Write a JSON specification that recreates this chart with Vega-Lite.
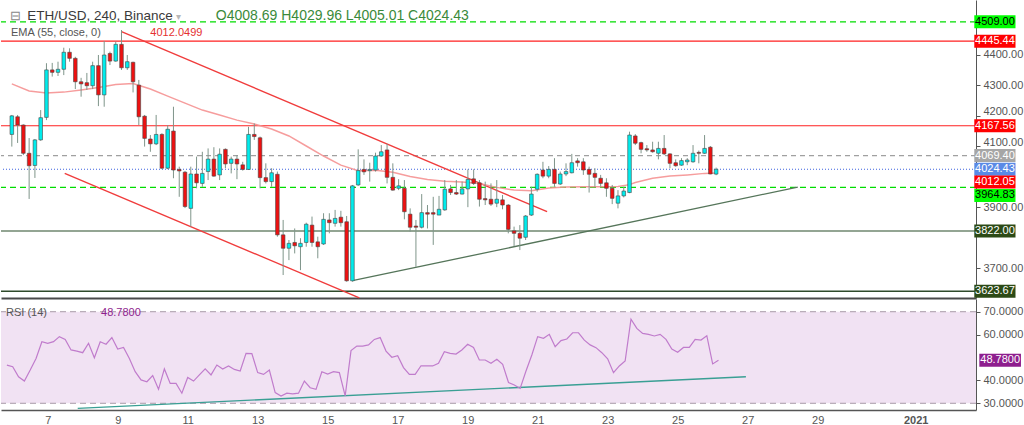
{
"$schema": "https://vega.github.io/schema/vega-lite/v6.json",
"padding": 0,
"spacing": 0,
"background": "white",
"config": {"view": {"stroke": null}, "font": "Liberation Sans"},
"datasets": {
"one": [{}],
"candles": [
{"time":"2020-12-05T20:00:00Z","open":4139,"high":4203,"low":4099,"close":4200,"rsi":46.7},
{"time":"2020-12-06T00:00:00Z","open":4197,"high":4203,"low":4111,"close":4170,"rsi":46.0},
{"time":"2020-12-06T04:00:00Z","open":4170,"high":4172,"low":4071,"close":4077,"rsi":41.6},
{"time":"2020-12-06T08:00:00Z","open":4077,"high":4127,"low":3927,"close":4036,"rsi":39.7},
{"time":"2020-12-06T12:00:00Z","open":4037,"high":4124,"low":3996,"close":4121,"rsi":44.5},
{"time":"2020-12-06T16:00:00Z","open":4121,"high":4219,"low":4118,"close":4194,"rsi":49.6},
{"time":"2020-12-06T20:00:00Z","open":4195,"high":4373,"low":4186,"close":4351,"rsi":56.9},
{"time":"2020-12-07T00:00:00Z","open":4351,"high":4374,"low":4329,"close":4343,"rsi":56.2},
{"time":"2020-12-07T04:00:00Z","open":4343,"high":4378,"low":4331,"close":4353,"rsi":56.9},
{"time":"2020-12-07T08:00:00Z","open":4353,"high":4424,"low":4334,"close":4409,"rsi":59.1},
{"time":"2020-12-07T12:00:00Z","open":4409,"high":4422,"low":4378,"close":4389,"rsi":57.9},
{"time":"2020-12-07T16:00:00Z","open":4389,"high":4394,"low":4288,"close":4312,"rsi":53.3},
{"time":"2020-12-07T20:00:00Z","open":4312,"high":4325,"low":4263,"close":4305,"rsi":52.8},
{"time":"2020-12-08T00:00:00Z","open":4309,"high":4341,"low":4285,"close":4299,"rsi":52.1},
{"time":"2020-12-08T04:00:00Z","open":4299,"high":4378,"low":4288,"close":4365,"rsi":56.2},
{"time":"2020-12-08T08:00:00Z","open":4365,"high":4400,"low":4232,"close":4269,"rsi":49.9},
{"time":"2020-12-08T12:00:00Z","open":4269,"high":4446,"low":4230,"close":4400,"rsi":56.9},
{"time":"2020-12-08T16:00:00Z","open":4405,"high":4411,"low":4367,"close":4380,"rsi":55.8},
{"time":"2020-12-08T20:00:00Z","open":4380,"high":4444,"low":4378,"close":4435,"rsi":58.7},
{"time":"2020-12-09T00:00:00Z","open":4435,"high":4482,"low":4351,"close":4358,"rsi":53.7},
{"time":"2020-12-09T04:00:00Z","open":4358,"high":4400,"low":4351,"close":4378,"rsi":54.4},
{"time":"2020-12-09T08:00:00Z","open":4376,"high":4378,"low":4277,"close":4312,"rsi":49.6},
{"time":"2020-12-09T12:00:00Z","open":4301,"high":4318,"low":4170,"close":4197,"rsi":43.8},
{"time":"2020-12-09T16:00:00Z","open":4199,"high":4203,"low":4099,"close":4126,"rsi":40.2},
{"time":"2020-12-09T20:00:00Z","open":4124,"high":4137,"low":4082,"close":4108,"rsi":39.4},
{"time":"2020-12-10T00:00:00Z","open":4108,"high":4203,"low":4104,"close":4139,"rsi":42.1},
{"time":"2020-12-10T04:00:00Z","open":4139,"high":4143,"low":4025,"close":4028,"rsi":36.1},
{"time":"2020-12-10T08:00:00Z","open":4028,"high":4170,"low":4025,"close":4156,"rsi":45.0},
{"time":"2020-12-10T12:00:00Z","open":4150,"high":4230,"low":3995,"close":4022,"rsi":38.7},
{"time":"2020-12-10T16:00:00Z","open":4024,"high":4033,"low":3934,"close":4019,"rsi":38.7},
{"time":"2020-12-10T20:00:00Z","open":4015,"high":4019,"low":3897,"close":3902,"rsi":34.4},
{"time":"2020-12-11T00:00:00Z","open":3896,"high":4033,"low":3836,"close":4009,"rsi":41.3},
{"time":"2020-12-11T04:00:00Z","open":4009,"high":4066,"low":3962,"close":3980,"rsi":39.7},
{"time":"2020-12-11T08:00:00Z","open":3978,"high":4082,"low":3967,"close":4011,"rsi":42.4},
{"time":"2020-12-11T12:00:00Z","open":4017,"high":4093,"low":3989,"close":4058,"rsi":45.0},
{"time":"2020-12-11T16:00:00Z","open":4058,"high":4097,"low":4000,"close":4002,"rsi":42.4},
{"time":"2020-12-11T20:00:00Z","open":4006,"high":4093,"low":3989,"close":4074,"rsi":46.7},
{"time":"2020-12-12T00:00:00Z","open":4090,"high":4093,"low":4028,"close":4042,"rsi":45.0},
{"time":"2020-12-12T04:00:00Z","open":4044,"high":4066,"low":4011,"close":4058,"rsi":46.3},
{"time":"2020-12-12T08:00:00Z","open":4058,"high":4071,"low":3992,"close":4042,"rsi":44.8},
{"time":"2020-12-12T12:00:00Z","open":4039,"high":4049,"low":4020,"close":4024,"rsi":44.1},
{"time":"2020-12-12T16:00:00Z","open":4024,"high":4164,"low":4022,"close":4139,"rsi":51.8},
{"time":"2020-12-12T20:00:00Z","open":4139,"high":4175,"low":4121,"close":4132,"rsi":51.7},
{"time":"2020-12-13T00:00:00Z","open":4128,"high":4132,"low":3962,"close":3997,"rsi":43.4},
{"time":"2020-12-13T04:00:00Z","open":3997,"high":4044,"low":3978,"close":3984,"rsi":42.6},
{"time":"2020-12-13T08:00:00Z","open":3984,"high":4028,"low":3967,"close":4013,"rsi":44.5},
{"time":"2020-12-13T12:00:00Z","open":4008,"high":4017,"low":3803,"close":3809,"rsi":34.7},
{"time":"2020-12-13T16:00:00Z","open":3809,"high":3858,"low":3677,"close":3765,"rsi":33.2},
{"time":"2020-12-13T20:00:00Z","open":3765,"high":3792,"low":3726,"close":3781,"rsi":34.4},
{"time":"2020-12-14T00:00:00Z","open":3784,"high":3830,"low":3748,"close":3773,"rsi":34.1},
{"time":"2020-12-14T04:00:00Z","open":3770,"high":3798,"low":3693,"close":3781,"rsi":34.4},
{"time":"2020-12-14T08:00:00Z","open":3784,"high":3849,"low":3770,"close":3844,"rsi":39.7},
{"time":"2020-12-14T12:00:00Z","open":3841,"high":3869,"low":3770,"close":3784,"rsi":36.8},
{"time":"2020-12-14T16:00:00Z","open":3786,"high":3803,"low":3732,"close":3770,"rsi":36.1},
{"time":"2020-12-14T20:00:00Z","open":3779,"high":3880,"low":3776,"close":3860,"rsi":43.8},
{"time":"2020-12-15T00:00:00Z","open":3858,"high":3880,"low":3814,"close":3849,"rsi":42.8},
{"time":"2020-12-15T04:00:00Z","open":3847,"high":3891,"low":3836,"close":3863,"rsi":43.8},
{"time":"2020-12-15T08:00:00Z","open":3867,"high":3888,"low":3836,"close":3849,"rsi":43.4},
{"time":"2020-12-15T12:00:00Z","open":3852,"high":3871,"low":3655,"close":3658,"rsi":33.2},
{"time":"2020-12-15T16:00:00Z","open":3658,"high":3973,"low":3655,"close":3970,"rsi":53.0},
{"time":"2020-12-15T20:00:00Z","open":3973,"high":4090,"low":3970,"close":4020,"rsi":55.0},
{"time":"2020-12-16T00:00:00Z","open":4024,"high":4057,"low":4006,"close":4016,"rsi":55.0},
{"time":"2020-12-16T04:00:00Z","open":4020,"high":4046,"low":3984,"close":4024,"rsi":55.5},
{"time":"2020-12-16T08:00:00Z","open":4022,"high":4079,"low":4017,"close":4068,"rsi":57.9},
{"time":"2020-12-16T12:00:00Z","open":4068,"high":4104,"low":4066,"close":4082,"rsi":58.7},
{"time":"2020-12-16T16:00:00Z","open":4088,"high":4108,"low":3978,"close":3998,"rsi":52.8},
{"time":"2020-12-16T20:00:00Z","open":3998,"high":4044,"low":3954,"close":3956,"rsi":50.1},
{"time":"2020-12-17T00:00:00Z","open":3962,"high":3992,"low":3956,"close":3970,"rsi":50.8},
{"time":"2020-12-17T04:00:00Z","open":3962,"high":3989,"low":3860,"close":3885,"rsi":45.6},
{"time":"2020-12-17T08:00:00Z","open":3877,"high":3896,"low":3819,"close":3834,"rsi":42.6},
{"time":"2020-12-17T12:00:00Z","open":3838,"high":3858,"low":3704,"close":3834,"rsi":42.6},
{"time":"2020-12-17T16:00:00Z","open":3834,"high":3943,"low":3830,"close":3882,"rsi":46.4},
{"time":"2020-12-17T20:00:00Z","open":3882,"high":3907,"low":3830,"close":3877,"rsi":46.3},
{"time":"2020-12-18T00:00:00Z","open":3882,"high":3934,"low":3776,"close":3877,"rsi":46.3},
{"time":"2020-12-18T04:00:00Z","open":3874,"high":3937,"low":3874,"close":3893,"rsi":47.5},
{"time":"2020-12-18T08:00:00Z","open":3891,"high":3989,"low":3888,"close":3959,"rsi":52.5},
{"time":"2020-12-18T12:00:00Z","open":3960,"high":3973,"low":3940,"close":3948,"rsi":51.8},
{"time":"2020-12-18T16:00:00Z","open":3948,"high":3989,"low":3940,"close":3943,"rsi":51.5},
{"time":"2020-12-18T20:00:00Z","open":3943,"high":3984,"low":3942,"close":3960,"rsi":53.3},
{"time":"2020-12-19T00:00:00Z","open":3960,"high":4024,"low":3900,"close":3991,"rsi":55.8},
{"time":"2020-12-19T04:00:00Z","open":3993,"high":4024,"low":3973,"close":3978,"rsi":54.4},
{"time":"2020-12-19T08:00:00Z","open":3980,"high":3989,"low":3902,"close":3926,"rsi":48.9},
{"time":"2020-12-19T12:00:00Z","open":3928,"high":3984,"low":3907,"close":3924,"rsi":48.9},
{"time":"2020-12-19T16:00:00Z","open":3926,"high":3978,"low":3904,"close":3910,"rsi":47.5},
{"time":"2020-12-19T20:00:00Z","open":3913,"high":3989,"low":3900,"close":3926,"rsi":49.2},
{"time":"2020-12-20T00:00:00Z","open":3924,"high":3940,"low":3893,"close":3907,"rsi":47.0},
{"time":"2020-12-20T04:00:00Z","open":3907,"high":3910,"low":3814,"close":3827,"rsi":39.1},
{"time":"2020-12-20T08:00:00Z","open":3822,"high":3836,"low":3772,"close":3814,"rsi":38.0},
{"time":"2020-12-20T12:00:00Z","open":3814,"high":3841,"low":3759,"close":3798,"rsi":36.5},
{"time":"2020-12-20T16:00:00Z","open":3801,"high":3874,"low":3792,"close":3871,"rsi":44.1},
{"time":"2020-12-20T20:00:00Z","open":3874,"high":3967,"low":3871,"close":3943,"rsi":51.1},
{"time":"2020-12-21T00:00:00Z","open":3959,"high":4011,"low":3951,"close":4008,"rsi":59.1},
{"time":"2020-12-21T04:00:00Z","open":4022,"high":4049,"low":3995,"close":4002,"rsi":58.4},
{"time":"2020-12-21T08:00:00Z","open":4002,"high":4035,"low":3995,"close":4024,"rsi":60.1},
{"time":"2020-12-21T12:00:00Z","open":4024,"high":4061,"low":3967,"close":3978,"rsi":54.7},
{"time":"2020-12-21T16:00:00Z","open":3976,"high":4017,"low":3973,"close":4009,"rsi":57.4},
{"time":"2020-12-21T20:00:00Z","open":4009,"high":4044,"low":4002,"close":4017,"rsi":58.1},
{"time":"2020-12-22T00:00:00Z","open":4013,"high":4075,"low":4011,"close":4046,"rsi":60.8},
{"time":"2020-12-22T04:00:00Z","open":4052,"high":4061,"low":4033,"close":4046,"rsi":60.8},
{"time":"2020-12-22T08:00:00Z","open":4049,"high":4061,"low":4006,"close":4022,"rsi":57.6},
{"time":"2020-12-22T12:00:00Z","open":4024,"high":4033,"low":3948,"close":4008,"rsi":55.5},
{"time":"2020-12-22T16:00:00Z","open":4011,"high":4028,"low":3967,"close":3998,"rsi":54.3},
{"time":"2020-12-22T20:00:00Z","open":3995,"high":4006,"low":3967,"close":3978,"rsi":52.1},
{"time":"2020-12-23T00:00:00Z","open":3980,"high":3995,"low":3934,"close":3962,"rsi":49.4},
{"time":"2020-12-23T04:00:00Z","open":3962,"high":3973,"low":3910,"close":3929,"rsi":43.4},
{"time":"2020-12-23T08:00:00Z","open":3913,"high":3956,"low":3896,"close":3937,"rsi":46.3},
{"time":"2020-12-23T12:00:00Z","open":3937,"high":3967,"low":3932,"close":3953,"rsi":48.5},
{"time":"2020-12-23T16:00:00Z","open":3948,"high":4148,"low":3946,"close":4137,"rsi":66.7},
{"time":"2020-12-23T20:00:00Z","open":4134,"high":4140,"low":4104,"close":4110,"rsi":62.7},
{"time":"2020-12-24T00:00:00Z","open":4112,"high":4115,"low":4077,"close":4090,"rsi":60.5},
{"time":"2020-12-24T04:00:00Z","open":4092,"high":4104,"low":4082,"close":4088,"rsi":60.1},
{"time":"2020-12-24T08:00:00Z","open":4088,"high":4115,"low":4079,"close":4082,"rsi":59.4},
{"time":"2020-12-24T12:00:00Z","open":4077,"high":4115,"low":4057,"close":4093,"rsi":60.1},
{"time":"2020-12-24T16:00:00Z","open":4093,"high":4137,"low":4071,"close":4075,"rsi":57.9},
{"time":"2020-12-24T20:00:00Z","open":4075,"high":4077,"low":4028,"close":4044,"rsi":53.7},
{"time":"2020-12-25T00:00:00Z","open":4046,"high":4057,"low":4033,"close":4036,"rsi":52.3},
{"time":"2020-12-25T04:00:00Z","open":4038,"high":4061,"low":4036,"close":4053,"rsi":54.4},
{"time":"2020-12-25T08:00:00Z","open":4049,"high":4061,"low":4038,"close":4055,"rsi":54.4},
{"time":"2020-12-25T12:00:00Z","open":4049,"high":4104,"low":4046,"close":4077,"rsi":57.9},
{"time":"2020-12-25T16:00:00Z","open":4080,"high":4086,"low":4044,"close":4077,"rsi":57.6},
{"time":"2020-12-25T20:00:00Z","open":4077,"high":4137,"low":4075,"close":4093,"rsi":59.5},
{"time":"2020-12-26T00:00:00Z","open":4097,"high":4101,"low":4008,"close":4009,"rsi":47.2},
{"time":"2020-12-26T04:00:00Z","open":4008.69,"high":4029.96,"low":4005.01,"close":4024.43,"rsi":48.78}
],
"ema": [
{"time":"2020-12-05T20:00:00Z","ema":4305},
{"time":"2020-12-06T08:00:00Z","ema":4282},
{"time":"2020-12-06T20:00:00Z","ema":4275},
{"time":"2020-12-07T08:00:00Z","ema":4278},
{"time":"2020-12-07T20:00:00Z","ema":4285},
{"time":"2020-12-08T08:00:00Z","ema":4293},
{"time":"2020-12-08T20:00:00Z","ema":4303},
{"time":"2020-12-09T08:00:00Z","ema":4306},
{"time":"2020-12-09T20:00:00Z","ema":4288},
{"time":"2020-12-10T08:00:00Z","ema":4265},
{"time":"2020-12-10T20:00:00Z","ema":4242},
{"time":"2020-12-11T08:00:00Z","ema":4219},
{"time":"2020-12-11T20:00:00Z","ema":4203},
{"time":"2020-12-12T08:00:00Z","ema":4186},
{"time":"2020-12-12T20:00:00Z","ema":4173},
{"time":"2020-12-13T08:00:00Z","ema":4157},
{"time":"2020-12-13T20:00:00Z","ema":4134},
{"time":"2020-12-14T08:00:00Z","ema":4101},
{"time":"2020-12-14T20:00:00Z","ema":4068},
{"time":"2020-12-15T08:00:00Z","ema":4038},
{"time":"2020-12-15T20:00:00Z","ema":4020},
{"time":"2020-12-16T08:00:00Z","ema":4021},
{"time":"2020-12-16T20:00:00Z","ema":4015},
{"time":"2020-12-17T08:00:00Z","ema":4001},
{"time":"2020-12-17T20:00:00Z","ema":3991},
{"time":"2020-12-18T08:00:00Z","ema":3985},
{"time":"2020-12-18T20:00:00Z","ema":3983},
{"time":"2020-12-19T08:00:00Z","ema":3978},
{"time":"2020-12-19T20:00:00Z","ema":3965},
{"time":"2020-12-20T08:00:00Z","ema":3956},
{"time":"2020-12-20T20:00:00Z","ema":3954},
{"time":"2020-12-21T08:00:00Z","ema":3963},
{"time":"2020-12-21T20:00:00Z","ema":3966},
{"time":"2020-12-22T08:00:00Z","ema":3967},
{"time":"2020-12-22T20:00:00Z","ema":3967},
{"time":"2020-12-23T08:00:00Z","ema":3968},
{"time":"2020-12-23T16:00:00Z","ema":3974},
{"time":"2020-12-23T20:00:00Z","ema":3981},
{"time":"2020-12-24T08:00:00Z","ema":3995},
{"time":"2020-12-24T20:00:00Z","ema":4002},
{"time":"2020-12-25T08:00:00Z","ema":4006},
{"time":"2020-12-25T20:00:00Z","ema":4011},
{"time":"2020-12-26T04:00:00Z","ema":4012.05}
],
"badges": [
{"price":4509.00,"label":"4509.00","kind":"lime"},
{"price":4445.44,"label":"4445.44","kind":"red"},
{"price":4167.56,"label":"4167.56","kind":"red"},
{"price":4069.40,"label":"4069.40","kind":"gray"},
{"price":4024.43,"label":"4024.43","kind":"blue"},
{"price":4012.05,"label":"4012.05","kind":"red"},
{"price":3964.83,"label":"3964.83","kind":"lime"},
{"price":3822.00,"label":"3822.00","kind":"dark"},
{"price":3623.67,"label":"3623.67","kind":"dark"}
]
},
"vconcat": [
{
"width": 975,
"height": 298,
"data": {"name": "candles"},
"layer": [
{"data": {"name": "one"}, "mark": {"type": "rule", "stroke": "#00dd00", "strokeDash": [6, 4], "strokeWidth": 1.2}, "encoding": {"y": {"datum": 4509, "type": "quantitative"}}},
{"data": {"name": "one"}, "mark": {"type": "rule", "stroke": "#ff2020", "strokeWidth": 1.2}, "encoding": {"y": {"datum": 4445.44, "type": "quantitative"}}},
{"data": {"name": "one"}, "mark": {"type": "rule", "stroke": "#ff2020", "strokeWidth": 1.2}, "encoding": {"y": {"datum": 4167.56, "type": "quantitative"}}},
{"data": {"name": "one"}, "mark": {"type": "rule", "stroke": "#a0a0a0", "strokeDash": [5, 4], "strokeWidth": 1.1}, "encoding": {"y": {"datum": 4069.40, "type": "quantitative"}}},
{"data": {"name": "one"}, "mark": {"type": "rule", "stroke": "#3f63e0", "strokeDash": [1, 2], "strokeWidth": 1.1}, "encoding": {"y": {"datum": 4024.43, "type": "quantitative"}}},
{"data": {"name": "one"}, "mark": {"type": "rule", "stroke": "#00dd00", "strokeDash": [6, 4], "strokeWidth": 1.2}, "encoding": {"y": {"datum": 3964.83, "type": "quantitative"}}},
{"data": {"name": "one"}, "mark": {"type": "rule", "stroke": "#6f876f", "strokeWidth": 1.5}, "encoding": {"y": {"datum": 3822.00, "type": "quantitative"}}},
{"data": {"name": "one"}, "mark": {"type": "rule", "stroke": "#2f4a2a", "strokeWidth": 1.5}, "encoding": {"y": {"datum": 3623.67, "type": "quantitative"}}},
{"data": {"name": "one"}, "mark": {"type": "rule", "stroke": "#f03c3c", "strokeWidth": 1.4}, "encoding": {
  "x": {"datum": {"year": 2020, "month": 12, "date": 9, "hours": 0, "utc": true}, "type": "temporal"},
  "x2": {"datum": {"year": 2020, "month": 12, "date": 21, "hours": 6, "minutes": 53, "utc": true}},
  "y": {"datum": 4476.6, "type": "quantitative"}, "y2": {"datum": 3885.1}}},
{"data": {"name": "one"}, "mark": {"type": "rule", "stroke": "#f03c3c", "strokeWidth": 1.4}, "encoding": {
  "x": {"datum": {"year": 2020, "month": 12, "date": 7, "hours": 8, "minutes": 38, "utc": true}, "type": "temporal"},
  "x2": {"datum": {"year": 2020, "month": 12, "date": 15, "hours": 20, "minutes": 47, "utc": true}},
  "y": {"datum": 4011.2, "type": "quantitative"}, "y2": {"datum": 3602}}},
{"data": {"name": "one"}, "mark": {"type": "rule", "stroke": "#55755a", "strokeWidth": 1.3}, "encoding": {
  "x": {"datum": {"year": 2020, "month": 12, "date": 15, "hours": 16, "utc": true}, "type": "temporal"},
  "x2": {"datum": {"year": 2020, "month": 12, "date": 28, "hours": 12, "minutes": 35, "utc": true}},
  "y": {"datum": 3658.3, "type": "quantitative"}, "y2": {"datum": 3965.9}}},
{"data": {"name": "ema"}, "mark": {"type": "line", "stroke": "#f59292", "strokeWidth": 1.5, "opacity": 0.9}, "encoding": {
  "x": {"field": "time", "type": "temporal"},
  "y": {"field": "ema", "type": "quantitative"}}},
{"mark": {"type": "rule", "stroke": "#7f958a", "strokeWidth": 1}, "encoding": {
  "x": {"field": "time", "type": "temporal"},
  "y": {"field": "low", "type": "quantitative"},
  "y2": {"field": "high"}}},
{"mark": {"type": "bar", "width": 3.6, "stroke": "#454545", "strokeWidth": 0.6}, "encoding": {
  "x": {"field": "time", "type": "temporal",
    "scale": {"type": "utc", "nice": false, "domain": [{"year": 2020, "month": 12, "date": 5, "hours": 15, "minutes": 58, "utc": true}, {"year": 2021, "month": 1, "date": 2, "hours": 12, "minutes": 36, "utc": true}]},
    "axis": {"labels": false, "ticks": false, "domain": true, "domainColor": "#4a4a4a", "domainWidth": 2, "grid": false, "title": null}},
  "y": {"field": "open", "type": "quantitative",
    "scale": {"domain": [3601.5, 4580.7], "nice": false, "zero": false},
    "axis": {"orient": "right", "values": [3700, 3900, 4100, 4200, 4300, 4400], "format": ".2f", "title": null, "grid": false, "labelOverlap": false, "domainColor": "#555555", "tickColor": "#555555", "tickSize": 4, "labelPadding": 3, "labelColor": "#555555", "labelFontSize": 11, "labelFont": "Liberation Sans",
      "labelOffset": {"condition": {"test": "datum.value == 4100 || datum.value == 4200", "value": -4}, "value": 0}}},
  "y2": {"field": "close"},
  "fill": {"condition": {"test": "datum.close > datum.open", "value": "#00ecec"}, "value": "#ee1111"}}},
{"data": {"name": "one"}, "mark": {"type": "text", "align": "left", "baseline": "alphabetic", "fontSize": 13, "color": "#888888"}, "encoding": {
  "x": {"datum": {"year": 2020, "month": 12, "date": 5, "hours": 18, "minutes": 42, "utc": true}, "type": "temporal"},
  "y": {"datum": 4514, "type": "quantitative"}, "text": {"value": "⊟"}}},
{"data": {"name": "one"}, "mark": {"type": "text", "align": "left", "baseline": "alphabetic", "fontSize": 13.5, "color": "#3a3a3a", "font": "Liberation Sans"}, "encoding": {
  "x": {"datum": {"year": 2020, "month": 12, "date": 6, "hours": 6, "minutes": 40, "utc": true}, "type": "temporal"},
  "y": {"datum": 4513.4, "type": "quantitative"}, "text": {"value": "ETH/USD, 240, Binance"}}},
{"data": {"name": "one"}, "mark": {"type": "text", "align": "left", "baseline": "alphabetic", "fontSize": 10, "color": "#b8b8b8"}, "encoding": {
  "x": {"datum": {"year": 2020, "month": 12, "date": 10, "hours": 14, "minutes": 0, "utc": true}, "type": "temporal"},
  "y": {"datum": 4513.4, "type": "quantitative"}, "text": {"value": "▾"}}},
{"data": {"name": "one"}, "mark": {"type": "text", "align": "left", "baseline": "alphabetic", "fontSize": 14, "color": "#3a8a3a", "font": "Liberation Sans"}, "encoding": {
  "x": {"datum": {"year": 2020, "month": 12, "date": 11, "hours": 17, "minutes": 22, "utc": true}, "type": "temporal"},
  "y": {"datum": 4513.4, "type": "quantitative"}, "text": {"value": "O4008.69 H4029.96 L4005.01 C4024.43"}}},
{"data": {"name": "one"}, "mark": {"type": "text", "align": "left", "baseline": "alphabetic", "fontSize": 11, "color": "#555555", "font": "Liberation Sans"}, "encoding": {
  "x": {"datum": {"year": 2020, "month": 12, "date": 5, "hours": 19, "minutes": 24, "utc": true}, "type": "temporal"},
  "y": {"datum": 4462.4, "type": "quantitative"}, "text": {"value": "EMA (55, close, 0)"}}},
{"data": {"name": "one"}, "mark": {"type": "text", "align": "left", "baseline": "alphabetic", "fontSize": 11, "color": "#e53030", "font": "Liberation Sans"}, "encoding": {
  "x": {"datum": {"year": 2020, "month": 12, "date": 9, "hours": 20, "minutes": 0, "utc": true}, "type": "temporal"},
  "y": {"datum": 4462.4, "type": "quantitative"}, "text": {"value": "4012.0499"}}},
{"data": {"name": "badges"}, "transform": [{"filter": "datum.price != 4012.05 && datum.price != 3964.83"}],
 "mark": {"type": "rule", "strokeWidth": 13, "strokeCap": "butt"}, "encoding": {
  "x": {"datum": {"year": 2021, "month": 1, "date": 2, "hours": 14, "minutes": 53, "utc": true}, "type": "temporal"},
  "x2": {"datum": {"year": 2021, "month": 1, "date": 3, "hours": 19, "minutes": 26, "utc": true}},
  "y": {"field": "price", "type": "quantitative"},
  "stroke": {"field": "kind", "type": "nominal", "scale": {"domain": ["lime", "red", "gray", "blue", "dark"], "range": ["#00ff00", "#ff0000", "#a6a6a6", "#5a8ae6", "#2c4a16"]}, "legend": null}}},
{"data": {"name": "badges"}, "transform": [{"filter": "datum.price != 4012.05 && datum.price != 3964.83"}],
 "mark": {"type": "text", "fontSize": 11, "font": "Liberation Sans", "align": "center", "baseline": "middle"}, "encoding": {
  "x": {"datum": {"year": 2021, "month": 1, "date": 3, "hours": 5, "minutes": 11, "utc": true}, "type": "temporal"},
  "y": {"field": "price", "type": "quantitative"},
  "text": {"field": "label"},
  "fill": {"field": "kind", "type": "nominal", "scale": {"domain": ["lime", "red", "gray", "blue", "dark"], "range": ["#000000", "#ffffff", "#ffffff", "#ffffff", "#ffffff"]}, "legend": null}}},
{"data": {"name": "badges"}, "transform": [{"filter": "datum.price == 4012.05"}],
 "mark": {"type": "rule", "strokeWidth": 13, "strokeCap": "butt", "yOffset": 9}, "encoding": {
  "x": {"datum": {"year": 2021, "month": 1, "date": 2, "hours": 14, "minutes": 53, "utc": true}, "type": "temporal"},
  "x2": {"datum": {"year": 2021, "month": 1, "date": 3, "hours": 19, "minutes": 26, "utc": true}},
  "y": {"field": "price", "type": "quantitative"},
  "stroke": {"field": "kind", "type": "nominal", "legend": null}}},
{"data": {"name": "badges"}, "transform": [{"filter": "datum.price == 4012.05"}],
 "mark": {"type": "text", "fontSize": 11, "font": "Liberation Sans", "align": "center", "baseline": "middle", "yOffset": 9}, "encoding": {
  "x": {"datum": {"year": 2021, "month": 1, "date": 3, "hours": 5, "minutes": 11, "utc": true}, "type": "temporal"},
  "y": {"field": "price", "type": "quantitative"},
  "text": {"field": "label"},
  "fill": {"field": "kind", "type": "nominal", "legend": null}}},
{"data": {"name": "badges"}, "transform": [{"filter": "datum.price == 3964.83"}],
 "mark": {"type": "rule", "strokeWidth": 13, "strokeCap": "butt", "yOffset": 8}, "encoding": {
  "x": {"datum": {"year": 2021, "month": 1, "date": 2, "hours": 14, "minutes": 53, "utc": true}, "type": "temporal"},
  "x2": {"datum": {"year": 2021, "month": 1, "date": 3, "hours": 19, "minutes": 26, "utc": true}},
  "y": {"field": "price", "type": "quantitative"},
  "stroke": {"field": "kind", "type": "nominal", "legend": null}}},
{"data": {"name": "badges"}, "transform": [{"filter": "datum.price == 3964.83"}],
 "mark": {"type": "text", "fontSize": 11, "font": "Liberation Sans", "align": "center", "baseline": "middle", "yOffset": 8}, "encoding": {
  "x": {"datum": {"year": 2021, "month": 1, "date": 3, "hours": 5, "minutes": 11, "utc": true}, "type": "temporal"},
  "y": {"field": "price", "type": "quantitative"},
  "text": {"field": "label"},
  "fill": {"field": "kind", "type": "nominal", "legend": null}}}
]
},
{
"width": 975,
"height": 111,
"data": {"name": "candles"},
"layer": [
{"data": {"name": "one"}, "mark": {"type": "rect", "color": "#f1e2f3"}, "encoding": {"y": {"datum": 70, "type": "quantitative", "axis": {"orient": "right", "values": [30, 40, 60, 70], "format": ".4f", "title": null, "grid": false, "labelOverlap": false, "domainColor": "#555555", "tickColor": "#555555", "tickSize": 4, "labelPadding": 3, "labelColor": "#555555", "labelFontSize": 11, "labelFont": "Liberation Sans"}}, "y2": {"datum": 30}}},
{"data": {"name": "one"}, "mark": {"type": "rule", "stroke": "#a89aa8", "strokeDash": [6, 4], "strokeWidth": 1}, "encoding": {"y": {"datum": 70, "type": "quantitative", "axis": {"orient": "right", "values": [30, 40, 60, 70], "format": ".4f", "title": null, "grid": false, "labelOverlap": false, "domainColor": "#555555", "tickColor": "#555555", "tickSize": 4, "labelPadding": 3, "labelColor": "#555555", "labelFontSize": 11, "labelFont": "Liberation Sans"}}}},
{"data": {"name": "one"}, "mark": {"type": "rule", "stroke": "#a89aa8", "strokeDash": [6, 4], "strokeWidth": 1}, "encoding": {"y": {"datum": 30, "type": "quantitative", "axis": {"orient": "right", "values": [30, 40, 60, 70], "format": ".4f", "title": null, "grid": false, "labelOverlap": false, "domainColor": "#555555", "tickColor": "#555555", "tickSize": 4, "labelPadding": 3, "labelColor": "#555555", "labelFontSize": 11, "labelFont": "Liberation Sans"}}}},
{"data": {"name": "one"}, "mark": {"type": "rule", "stroke": "#3a9f94", "strokeWidth": 1.3}, "encoding": {
  "x": {"datum": {"year": 2020, "month": 12, "date": 7, "hours": 20, "minutes": 34, "utc": true}, "type": "temporal"},
  "x2": {"datum": {"year": 2020, "month": 12, "date": 26, "hours": 22, "minutes": 48, "utc": true}},
  "y": {"datum": 27.8, "type": "quantitative", "axis": {"orient": "right", "values": [30, 40, 60, 70], "format": ".4f", "title": null, "grid": false, "labelOverlap": false, "domainColor": "#555555", "tickColor": "#555555", "tickSize": 4, "labelPadding": 3, "labelColor": "#555555", "labelFontSize": 11, "labelFont": "Liberation Sans"}}, "y2": {"datum": 41.6}}},
{"mark": {"type": "line", "stroke": "#c07ccc", "strokeWidth": 1.2}, "encoding": {
  "x": {"field": "time", "type": "temporal",
    "scale": {"type": "utc", "nice": false, "domain": [{"year": 2020, "month": 12, "date": 5, "hours": 15, "minutes": 58, "utc": true}, {"year": 2021, "month": 1, "date": 2, "hours": 12, "minutes": 36, "utc": true}]},
    "axis": {"orient": "bottom", "title": null, "grid": false, "ticks": false, "domain": true, "domainColor": "#555555", "domainWidth": 1.5, "labelColor": "#555555", "labelFontSize": 11, "labelFont": "Liberation Sans", "labelPadding": 4, "labelFlush": false, "labelOverlap": false,
      "labelFontWeight": {"condition": {"test": "utcmonth(datum.value) == 0", "value": "bold"}, "value": "normal"},
      "labelOffset": {"condition": {"test": "utcmonth(datum.value) == 0", "value": -7}, "value": 0},
      "values": [{"year": 2020, "month": 12, "date": 7, "utc": true}, {"year": 2020, "month": 12, "date": 9, "utc": true}, {"year": 2020, "month": 12, "date": 11, "utc": true}, {"year": 2020, "month": 12, "date": 13, "utc": true}, {"year": 2020, "month": 12, "date": 15, "utc": true}, {"year": 2020, "month": 12, "date": 17, "utc": true}, {"year": 2020, "month": 12, "date": 19, "utc": true}, {"year": 2020, "month": 12, "date": 21, "utc": true}, {"year": 2020, "month": 12, "date": 23, "utc": true}, {"year": 2020, "month": 12, "date": 25, "utc": true}, {"year": 2020, "month": 12, "date": 27, "utc": true}, {"year": 2020, "month": 12, "date": 29, "utc": true}, {"year": 2021, "month": 1, "date": 1, "utc": true}],
      "labelExpr": "utcmonth(datum.value) == 0 ? '2021' : '' + utcdate(datum.value)"}},
  "y": {"field": "rsi", "type": "quantitative",
    "scale": {"domain": [27.07, 75.55], "nice": false, "zero": false},
    "axis": {"orient": "right", "values": [30, 40, 60, 70], "format": ".4f", "title": null, "grid": false, "labelOverlap": false, "domainColor": "#555555", "tickColor": "#555555", "tickSize": 4, "labelPadding": 3, "labelColor": "#555555", "labelFontSize": 11, "labelFont": "Liberation Sans"}}}},
{"data": {"name": "one"}, "mark": {"type": "rule", "stroke": "#8e1e8e", "strokeWidth": 13, "strokeCap": "butt"}, "encoding": {
  "x": {"datum": {"year": 2021, "month": 1, "date": 2, "hours": 14, "minutes": 53, "utc": true}, "type": "temporal"},
  "x2": {"datum": {"year": 2021, "month": 1, "date": 3, "hours": 19, "minutes": 26, "utc": true}},
  "y": {"datum": 48.78, "type": "quantitative", "axis": {"orient": "right", "values": [30, 40, 60, 70], "format": ".4f", "title": null, "grid": false, "labelOverlap": false, "domainColor": "#555555", "tickColor": "#555555", "tickSize": 4, "labelPadding": 3, "labelColor": "#555555", "labelFontSize": 11, "labelFont": "Liberation Sans"}}}},
{"data": {"name": "one"}, "mark": {"type": "text", "fontSize": 11, "font": "Liberation Sans", "align": "center", "baseline": "middle", "color": "#ffffff"}, "encoding": {
  "x": {"datum": {"year": 2021, "month": 1, "date": 3, "hours": 5, "minutes": 11, "utc": true}, "type": "temporal"},
  "y": {"datum": 48.78, "type": "quantitative", "axis": {"orient": "right", "values": [30, 40, 60, 70], "format": ".4f", "title": null, "grid": false, "labelOverlap": false, "domainColor": "#555555", "tickColor": "#555555", "tickSize": 4, "labelPadding": 3, "labelColor": "#555555", "labelFontSize": 11, "labelFont": "Liberation Sans"}}, "text": {"value": "48.7800"}}},
{"data": {"name": "one"}, "mark": {"type": "text", "align": "left", "baseline": "alphabetic", "fontSize": 11, "color": "#555555", "font": "Liberation Sans"}, "encoding": {
  "x": {"datum": {"year": 2020, "month": 12, "date": 5, "hours": 19, "minutes": 24, "utc": true}, "type": "temporal"},
  "y": {"datum": 68.1, "type": "quantitative", "axis": {"orient": "right", "values": [30, 40, 60, 70], "format": ".4f", "title": null, "grid": false, "labelOverlap": false, "domainColor": "#555555", "tickColor": "#555555", "tickSize": 4, "labelPadding": 3, "labelColor": "#555555", "labelFontSize": 11, "labelFont": "Liberation Sans"}}, "text": {"value": "RSI (14)"}}},
{"data": {"name": "one"}, "mark": {"type": "text", "align": "left", "baseline": "alphabetic", "fontSize": 11, "color": "#8e1e8e", "font": "Liberation Sans"}, "encoding": {
  "x": {"datum": {"year": 2020, "month": 12, "date": 8, "hours": 12, "minutes": 34, "utc": true}, "type": "temporal"},
  "y": {"datum": 68.1, "type": "quantitative", "axis": {"orient": "right", "values": [30, 40, 60, 70], "format": ".4f", "title": null, "grid": false, "labelOverlap": false, "domainColor": "#555555", "tickColor": "#555555", "tickSize": 4, "labelPadding": 3, "labelColor": "#555555", "labelFontSize": 11, "labelFont": "Liberation Sans"}}, "text": {"value": "48.7800"}}}
]
}
]
}
